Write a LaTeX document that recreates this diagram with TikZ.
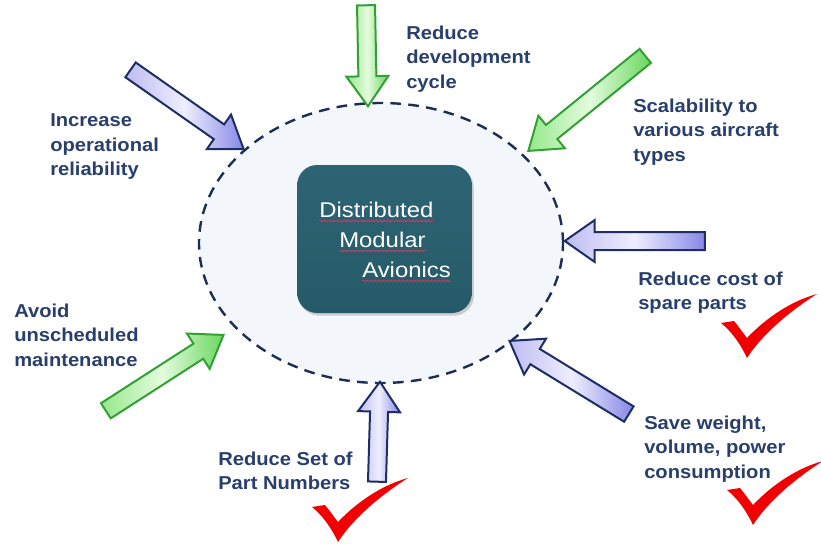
\documentclass[tikz,border=0pt]{standalone}
\usepackage{fontspec}
\setmainfont{Liberation Sans}[FakeStretch=1.08]
\newfontfamily\boxfont{Liberation Sans}[FakeStretch=1.12]
\usepackage{tikz}
\usetikzlibrary{shapes.geometric}
\usetikzlibrary{shapes.arrows}
\usetikzlibrary{shadows}
\usetikzlibrary{decorations.pathmorphing}

\definecolor{labelblue}{RGB}{40,62,108}
\definecolor{ringblue}{RGB}{28,46,84}
\definecolor{ringfill}{RGB}{243,246,251}
\definecolor{boxtop}{RGB}{45,100,115}
\definecolor{boxbottom}{RGB}{38,90,105}
\definecolor{blueedge}{RGB}{30,45,100}
\definecolor{bluetail}{RGB}{190,188,242}
\definecolor{bluemid}{RGB}{238,238,253}
\definecolor{bluetip}{RGB}{135,135,232}
\definecolor{greenedge}{RGB}{50,160,50}
\definecolor{greentail}{RGB}{150,232,140}
\definecolor{greenmid}{RGB}{228,251,222}
\definecolor{greentip}{RGB}{105,215,95}
\definecolor{tickred}{RGB}{240,0,0}
\definecolor{squigred}{RGB}{200,60,100}

\tikzset{
    blockblue/.style={single arrow, draw=blueedge, line width=1.5pt, inner xsep=0pt, inner ysep=6pt,
        single arrow head extend=9pt, single arrow tip angle=70, anchor=tip,
        left color=bluetail, right color=bluetip, middle color=bluemid},
    blockgreen/.style={single arrow, draw=greenedge, line width=1.5pt, inner xsep=0pt, inner ysep=6pt,
        single arrow head extend=9pt, single arrow tip angle=70, anchor=tip,
        left color=greentail, right color=greentip, middle color=greenmid},
    lbl/.style={anchor=north west, inner sep=0pt, align=left, text=labelblue,
        font=\fontsize{14pt}{18.4pt}\selectfont\bfseries},
    dmaline/.style={anchor=base west, inner sep=0pt, text=white, font=\boxfont\fontsize{16pt}{20pt}\selectfont},
    squig/.style={draw=squigred, line width=0.6pt, decorate, decoration={snake, segment length=3pt, amplitude=0.7pt}},
    pics/redtick/.style={code={
        \fill[tickred] (0,0) -- (13,-2) .. controls (18,4) and (22,10) .. (26,15)
            .. controls (45,-5) and (70,-22) .. (96,-29)
            .. controls (72,-14) and (42,10) .. (26,35)
            .. controls (19,20) and (10,8) .. (0,0) -- cycle;
    }}
}

\begin{document}
\begin{tikzpicture}[x=0.75pt, y=-0.75pt]
    \useasboundingbox (0,0) rectangle (821,543);

    % The ring and the box
    \node[ellipse, draw=ringblue, fill=ringfill, line width=1.8pt, dash pattern=on 8pt off 5.5pt,
        minimum width=273pt, minimum height=210pt, inner sep=0pt] (ring) at (381,243) {};
    \node[rounded corners=15pt, top color=boxtop, bottom color=boxbottom,
        drop shadow={shadow xshift=1.5pt, shadow yshift=-2pt, opacity=0.35},
        minimum width=131pt, minimum height=111pt, inner sep=0pt] (dma) at (384.5,239) {};
    \node[dmaline] (dma1) at (319,217) {Distributed};
    \node[dmaline] (dma2) at (339,247) {Modular};
    \node[dmaline] (dma3) at (362,277) {Avionics};
    \draw[squig] ([yshift=-3pt]dma1.base west) -- ([yshift=-3pt]dma1.base east);
    \draw[squig] ([yshift=-3pt]dma2.base west) -- ([yshift=-3pt]dma2.base east);
    \draw[squig] ([yshift=-3pt]dma3.base west) -- ([yshift=-3pt]dma3.base east);

    % The arrows
    \node[blockblue, rotate=-35, minimum height=103.5pt] (aRel) at (245,150) {};
    \node[blockgreen, rotate=-88.9, minimum height=75.75pt] (aDev) at (368,108) {};
    \node[blockgreen, rotate=-140.9, minimum height=113pt] (aScal) at (527,152) {};
    \node[blockblue, rotate=180, minimum height=105pt] (aCost) at (563,241) {};
    \node[blockblue, rotate=148.5, minimum height=105pt] (aWeight) at (508,340) {};
    \node[blockblue, rotate=88.3, minimum height=75pt] (aPart) at (380,380) {};
    \node[blockgreen, rotate=32.8, minimum height=105pt] (aMaint) at (225,334) {};

    % The labels
    \node[lbl] (tDev) at (406,25.4) {Reduce\\development\\cycle};
    \node[lbl] (tRel) at (50,113.4) {Increase\\operational\\reliability};
    \node[lbl] (tScal) at (633,98.4) {Scalability to\\various aircraft\\types};
    \node[lbl] (tCost) at (638,271.4) {Reduce cost of\\spare parts};
    \node[lbl] (tMaint) at (14,303.4) {Avoid\\unscheduled\\maintenance};
    \node[lbl] (tWeight) at (644,415.4) {Save weight,\\volume, power\\consumption};
    \node[lbl] (tPart) at (218,451.4) {Reduce Set of\\Part Numbers};

    % Finally the ticks
    \pic at (721,323) {redtick};
    \pic at (727,490) {redtick};
    \pic at (312,507) {redtick};

\end{tikzpicture}
\end{document}
